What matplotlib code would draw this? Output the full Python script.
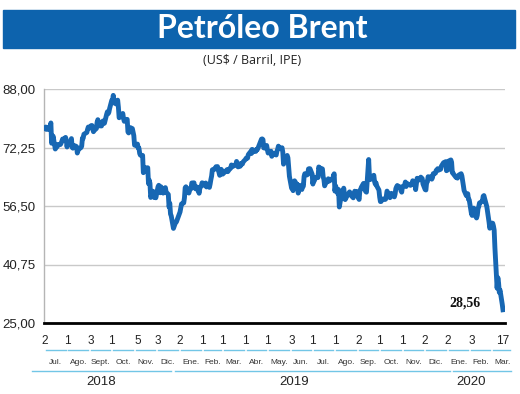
import matplotlib.pyplot as plt
import matplotlib.ticker as mticker
import pandas as pd
from matplotlib.patches import Rectangle

# Brent diario (US$/barril), agrupado por mes
meses = ["2018-07", "2018-08", "2018-09", "2018-10", "2018-11", "2018-12",
         "2019-01", "2019-02", "2019-03", "2019-04", "2019-05", "2019-06",
         "2019-07", "2019-08", "2019-09", "2019-10", "2019-11", "2019-12",
         "2020-01", "2020-02", "2020-03"]

dias = [
    [2, 3, 5, 6, 9, 10, 11, 12, 13, 16, 17, 18, 19, 20, 23, 24, 25, 26, 27, 30, 31],
    [1, 2, 3, 6, 7, 8, 9, 10, 13, 14, 15, 16, 17, 20, 21, 22, 23, 24, 27, 28, 29, 30, 31],
    [3, 4, 5, 6, 7, 10, 11, 12, 13, 14, 17, 18, 19, 20, 21, 24, 25, 26, 27, 28],
    [1, 2, 3, 4, 5, 8, 9, 10, 11, 12, 15, 16, 17, 18, 19, 22, 23, 24, 25, 26, 29, 30, 31],
    [1, 2, 5, 6, 7, 8, 9, 12, 13, 14, 15, 16, 19, 20, 21, 22, 23, 26, 27, 28, 29, 30],
    [3, 4, 5, 6, 7, 10, 11, 12, 13, 14, 17, 18, 19, 20, 21, 24, 27, 28, 31],
    [2, 3, 4, 7, 8, 9, 10, 11, 14, 15, 16, 17, 18, 21, 22, 23, 24, 25, 28, 29, 30, 31],
    [1, 4, 5, 6, 7, 8, 11, 12, 13, 14, 15, 18, 19, 20, 21, 22, 25, 26, 27, 28],
    [1, 4, 5, 6, 7, 8, 11, 12, 13, 14, 15, 18, 19, 20, 21, 22, 25, 26, 27, 28, 29],
    [1, 2, 3, 4, 5, 8, 9, 10, 11, 12, 15, 16, 17, 18, 22, 23, 24, 25, 26, 29, 30],
    [1, 2, 3, 6, 7, 8, 9, 10, 13, 14, 15, 16, 17, 20, 21, 22, 23, 24, 28, 29, 30, 31],
    [3, 4, 5, 6, 7, 10, 11, 12, 13, 14, 17, 18, 19, 20, 21, 24, 25, 26, 27, 28],
    [1, 2, 3, 4, 5, 8, 9, 10, 11, 12, 15, 16, 17, 18, 19, 22, 23, 24, 25, 26, 29, 30, 31],
    [1, 2, 5, 6, 7, 8, 9, 12, 13, 14, 15, 16, 19, 20, 21, 22, 23, 26, 27, 28, 29, 30],
    [2, 3, 4, 5, 6, 9, 10, 11, 12, 13, 16, 17, 18, 19, 20, 23, 24, 25, 26, 27, 30],
    [1, 2, 3, 4, 7, 8, 9, 10, 11, 14, 15, 16, 17, 18, 21, 22, 23, 24, 25, 28, 29, 30, 31],
    [1, 4, 5, 6, 7, 8, 11, 12, 13, 14, 15, 18, 19, 20, 21, 22, 25, 26, 27, 28, 29],
    [2, 3, 4, 5, 6, 9, 10, 11, 12, 13, 16, 17, 18, 19, 20, 23, 24, 27, 30, 31],
    [2, 3, 6, 7, 8, 9, 10, 13, 14, 15, 16, 17, 20, 21, 22, 23, 24, 27, 28, 29, 30, 31],
    [3, 4, 5, 6, 7, 10, 11, 12, 13, 14, 17, 18, 19, 20, 21, 24, 25, 26, 27, 28],
    [2, 3, 4, 5, 6, 9, 10, 11, 12, 13, 16, 17],
]

brent = [
    [77.30, 77.76, 77.39, 77.11, 78.07, 78.86, 73.40, 74.45, 75.33, 71.84, 72.16,
     72.90, 72.58, 73.07, 73.06, 73.44, 73.93, 74.54, 74.29, 74.97, 74.25],
    [72.39, 73.45, 73.21, 73.75, 74.65, 72.28, 72.07, 72.81, 72.61, 72.46, 70.76,
     71.43, 71.83, 72.21, 72.63, 74.78, 74.73, 75.82, 76.21, 76.31, 77.14, 77.77, 77.42],
    [78.15, 78.17, 77.27, 76.50, 76.83, 77.37, 79.06, 79.74, 78.18, 78.09, 78.05,
     79.03, 79.40, 78.70, 78.80, 81.20, 81.87, 81.34, 81.72, 82.72],
    [84.98, 84.80, 86.29, 84.58, 84.16, 83.91, 85.00, 83.09, 80.26, 80.43, 81.22,
     81.41, 80.05, 79.29, 79.78, 79.83, 76.44, 76.17, 76.89, 77.62, 77.34, 76.34, 75.47],
    [72.89, 72.83, 73.17, 72.13, 72.07, 70.65, 70.18, 70.12, 65.47, 66.12, 66.62,
     66.76, 66.79, 62.53, 63.48, 62.60, 58.80, 60.48, 60.21, 58.76, 59.51, 58.71],
    [61.69, 62.08, 61.56, 60.06, 61.67, 59.97, 60.20, 60.15, 61.45, 60.28, 59.61,
     56.26, 57.24, 54.35, 53.82, 50.47, 52.16, 52.20, 53.80],
    [54.91, 55.95, 57.06, 57.33, 58.72, 61.44, 61.68, 60.48, 59.99, 60.64, 61.32,
     61.18, 62.70, 62.74, 61.50, 61.14, 61.09, 61.64, 59.93, 61.32, 61.65, 61.89],
    [62.75, 62.51, 61.98, 62.69, 61.63, 62.10, 61.51, 62.42, 63.61, 64.57, 66.25,
     66.50, 66.45, 67.08, 67.07, 67.12, 64.76, 65.21, 66.39, 66.03],
    [65.07, 65.67, 65.86, 65.99, 66.30, 65.74, 66.58, 66.67, 67.55, 67.23, 67.16,
     67.54, 67.61, 68.50, 67.86, 67.03, 67.21, 67.97, 67.83, 67.82, 68.39],
    [69.01, 69.37, 69.31, 69.40, 70.34, 71.10, 70.61, 71.73, 71.02, 71.55, 71.18,
     71.72, 71.62, 71.97, 74.04, 74.51, 74.57, 74.35, 72.15, 72.04, 72.80],
    [71.62, 70.75, 70.85, 71.24, 69.88, 70.37, 70.39, 70.62, 70.23, 71.24, 71.77,
     72.62, 72.21, 71.97, 72.18, 70.99, 67.76, 68.69, 70.11, 69.45, 66.87, 64.49],
    [61.28, 61.97, 60.63, 61.67, 63.29, 62.29, 62.29, 59.97, 61.31, 62.01, 60.94,
     62.14, 61.82, 64.45, 65.20, 64.86, 65.05, 66.49, 66.55, 66.55],
    [65.06, 62.40, 63.82, 63.30, 64.23, 64.11, 64.16, 67.01, 66.52, 66.72, 66.48,
     64.35, 63.66, 61.93, 62.47, 63.26, 63.83, 63.18, 63.39, 63.46, 63.71, 64.72, 65.17],
    [60.50, 61.89, 59.81, 60.94, 56.23, 57.38, 58.53, 58.57, 61.30, 59.48, 58.23,
     58.64, 59.74, 60.03, 60.30, 59.92, 59.34, 58.70, 59.51, 60.49, 60.08, 60.43],
    [58.66, 58.26, 60.70, 60.95, 61.54, 62.59, 62.38, 60.81, 60.38, 60.22, 69.02,
     64.55, 63.60, 64.40, 64.28, 64.77, 63.10, 62.39, 62.74, 61.91, 60.78],
    [58.89, 57.69, 57.71, 58.37, 58.35, 58.24, 58.32, 59.10, 60.51, 59.35, 58.74,
     59.42, 59.91, 59.42, 58.96, 59.70, 61.17, 61.67, 62.02, 61.57, 61.59, 60.61, 60.23],
    [61.69, 62.13, 62.96, 61.74, 62.29, 62.51, 62.18, 62.06, 62.37, 62.28, 63.30,
     62.44, 60.91, 62.40, 63.97, 63.39, 63.65, 64.27, 64.06, 63.87, 62.43],
    [60.92, 60.82, 62.96, 63.00, 64.39, 64.25, 64.34, 63.72, 64.20, 65.22, 65.34,
     66.10, 66.17, 66.54, 66.14, 66.39, 67.20, 68.16, 68.44, 66.00],
    [66.25, 68.60, 68.91, 68.27, 65.44, 65.37, 64.98, 64.20, 64.49, 64.00, 64.62,
     64.85, 65.20, 64.59, 63.21, 62.04, 60.69, 59.32, 59.51, 59.81, 58.29, 58.16],
    [54.45, 53.96, 55.28, 55.93, 54.47, 53.27, 54.01, 55.79, 56.34, 57.32, 57.67,
     57.75, 59.12, 59.31, 58.50, 56.30, 54.95, 53.43, 52.18, 50.52],
    [51.90, 51.86, 51.13, 49.99, 45.27, 34.36, 37.22, 35.79, 33.22, 33.85, 30.05, 28.56],
]

fechas_ticks = ["2018-07-02", "2018-08-01", "2018-09-03", "2018-10-01", "2018-11-05",
                "2018-12-03", "2019-01-02", "2019-02-01", "2019-03-01", "2019-04-01",
                "2019-05-01", "2019-06-03", "2019-07-01", "2019-08-01", "2019-09-02",
                "2019-10-01", "2019-11-01", "2019-12-02", "2020-01-02", "2020-02-03",
                "2020-03-17"]
nombres_meses = ["Jul.", "Ago.", "Sept.", "Oct.", "Nov.", "Dic.", "Ene.", "Feb.", "Mar.",
                 "Abr.", "May.", "Jun.", "Jul.", "Ago.", "Sep.", "Oct.", "Nov.", "Dic.",
                 "Ene.", "Feb.", "Mar."]
anios = ["2018", "2019", "2020"]
y_ticks = [25.00, 40.75, 56.50, 72.25, 88.00]

fechas = []
precios = []
for mes, ds, vs in zip(meses, dias, brent):
    assert len(ds) == len(vs), mes
    fechas += [pd.Timestamp(f"{mes}-{d:02d}") for d in ds]
    precios += vs
fechas = pd.DatetimeIndex(fechas)

azul = "#1767b3"
celeste = "#72c6e6"
sans = ["Liberation Sans", "DejaVu Sans"]

fig = plt.figure(figsize=(5.2, 3.94), dpi=100)
fig.patch.set_facecolor("white")

# banda del titulo
fig.patches.append(Rectangle((3 / 520, 1 - 48 / 394), 512 / 520, 38 / 394,
                             transform=fig.transFigure, color="#0d63ad", zorder=0))
fig.text(0.505, 1 - 29 / 394, "Petróleo Brent", color="white", fontsize=23,
         fontweight="bold", family=["Lato", "DejaVu Sans"], ha="center", va="center")
fig.text(0.484, 1 - 61 / 394, "(US$ / Barril, IPE)", color="#222222", fontsize=9,
         family=["Open Sans", "DejaVu Sans"], ha="center", va="center")

ax = fig.add_axes([44 / 520, 1 - 323 / 394, 461 / 520, 234 / 394])
ax.plot(fechas, precios, color=azul, lw=3.5, solid_joinstyle="round", zorder=3)

ax.set_xlim(pd.Timestamp("2018-06-30 15:00"), pd.Timestamp("2020-03-19 18:00"))
ax.set_ylim(25, 88)
ax.set_yticks(y_ticks)
ax.yaxis.set_major_formatter(mticker.FuncFormatter(lambda v, p: f"{v:.2f}".replace(".", ",")))
ax.grid(axis="y", color="#c9c9c9", lw=1.0)
ax.set_axisbelow(True)
for s in ["top", "right"]:
    ax.spines[s].set_visible(False)
ax.spines["left"].set_color("#b5b5b5")
ax.spines["left"].set_linewidth(1.0)
ax.spines["bottom"].set_color("black")
ax.spines["bottom"].set_linewidth(2.0)
ax.tick_params(axis="y", length=0, pad=6, labelsize=9.5, labelcolor="#222222")
for t in ax.get_yticklabels():
    t.set_family(sans)

ticks = pd.to_datetime(fechas_ticks)
ax.set_xticks(ticks)
ax.set_xticklabels([str(t.day) for t in ticks])
ax.tick_params(axis="x", length=0, pad=9, labelsize=8.5, labelcolor="#222222")
for t in ax.get_xticklabels():
    t.set_family(sans)

# segmentos de meses y anios bajo el eje
tr = ax.get_xaxis_transform()
inicio_mes = pd.to_datetime([m + "-01" for m in meses])
fin_mes = list(inicio_mes[1:]) + [pd.Timestamp("2020-03-28")]
for nombre, a, b in zip(nombres_meses, inicio_mes, fin_mes):
    a2 = a + pd.Timedelta(days=2)
    b2 = b - pd.Timedelta(days=2)
    ax.plot([a2, b2], [-0.115, -0.115], transform=tr, color=celeste, lw=1.0, clip_on=False)
    mid = a + (pd.Timestamp("2020-03-31") - a) / 2 if b == fin_mes[-1] else a + (b - a) / 2
    ax.text(mid, -0.167, nombre, transform=tr, ha="center", va="center", fontsize=6,
            family=sans, color="#333333")

tramos_anio = [("2018-06-14", "2018-12-20"), ("2018-12-26", "2020-01-05"),
               ("2020-01-09", "2020-03-28")]
pos_anio = ["2018-09-17", "2019-06-07", "2020-02-03"]
for anio, (a, b), p in zip(anios, tramos_anio, pos_anio):
    ax.plot([pd.Timestamp(a), pd.Timestamp(b)], [-0.205, -0.205], transform=tr,
            color=celeste, lw=1.0, clip_on=False)
    ax.text(pd.Timestamp(p), -0.252, anio, transform=tr, ha="center", va="center",
            fontsize=9.5, family=sans, color="#222222")

ax.text(pd.Timestamp("2020-01-25"), 30.4, f"{precios[-1]:.2f}".replace(".", ","),
        ha="center", va="center", fontsize=10, fontweight="bold",
        family=["Liberation Serif", "DejaVu Serif"], color="#111111")

fig.savefig("out.png", dpi=100)
